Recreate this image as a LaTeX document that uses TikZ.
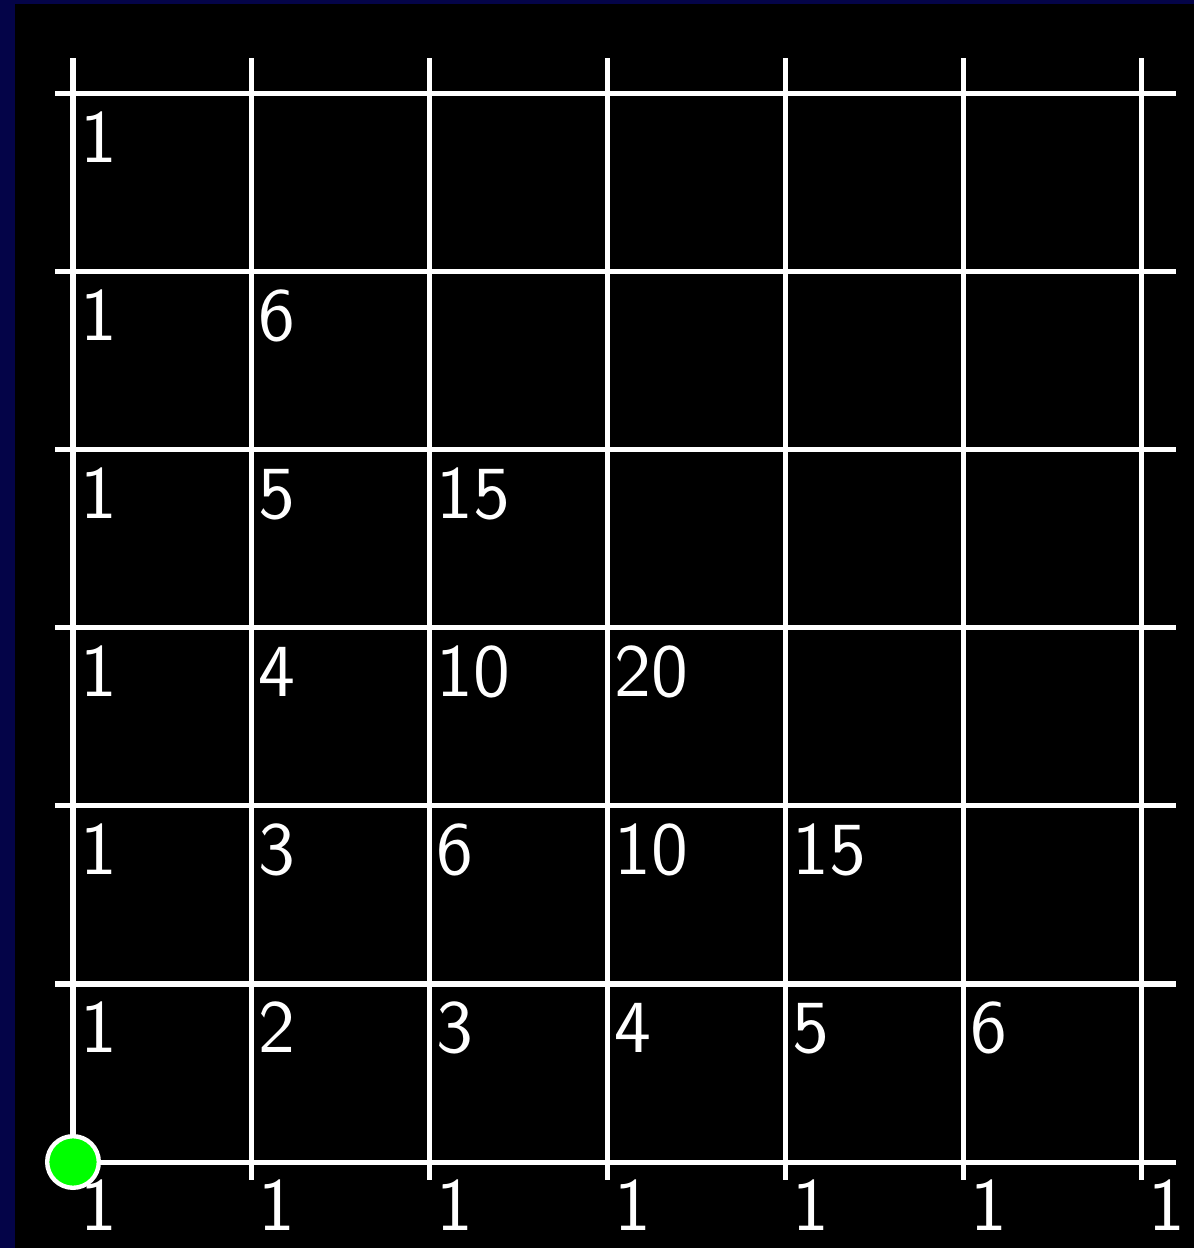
\documentclass[tikz,border=0pt]{standalone}
\usepackage{fontspec}
\setsansfont{Latin Modern Sans}
\definecolor{navyedge}{RGB}{4,4,72}
\definecolor{dotgreen}{RGB}{0,255,0}
\tikzset{
  gridline/.style={white, line width=0.8pt},
  cellnum/.style={white, anchor=base west, inner sep=0pt, font=\sffamily\fontsize{12}{14}\selectfont},
  startdot/.style={circle, fill=dotgreen, draw=white, line width=0.7pt, minimum size=0.29cm, inner sep=0pt}
}
\begin{document}
\begin{tikzpicture}
% background and border
\fill[navyedge] (-0.4101,-0.4831) rectangle (6.2978,6.5281);
\fill[black] (-0.3258,-0.4831) rectangle (6.2978,6.5056);
\useasboundingbox (-0.4101,-0.4831) rectangle (6.2978,6.5281);
% grid
\foreach \k in {0,...,6} {
  \draw[gridline] (\k,-0.101) -- (\k,6.202);
  \draw[gridline] (-0.101,\k) -- (6.197,\k);
}
% labels: value C(i+j, j) at lattice point (i,j), i+j <= 6
\foreach \j/\vals in {0/{1,1,1,1,1,1,1}, 1/{1,2,3,4,5,6}, 2/{1,3,6,10,15}, 3/{1,4,10,20}, 4/{1,5,15}, 5/{1,6}, 6/{1}} {
  \foreach \v [count=\c from 0] in \vals {
    \node[cellnum] (n\c-\j) at (\c+0.037,\j-0.387) {\v};
  }
}
% start point
\node[startdot] (start) at (0,0) {};
\end{tikzpicture}
\end{document}
